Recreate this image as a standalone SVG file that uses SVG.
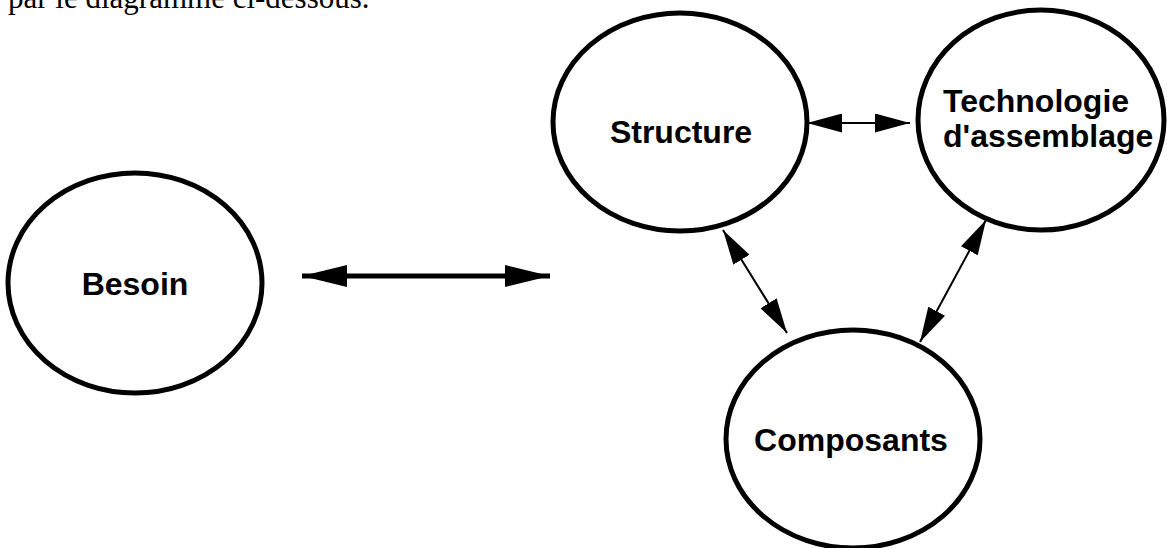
<svg xmlns="http://www.w3.org/2000/svg" width="1167" height="548" viewBox="0 0 1167 548">
  <style>
    .node { fill: #fff; stroke: #000; stroke-width: 5; }
    .lbl { font-family: "Liberation Sans", Arial, Helvetica, sans-serif; font-weight: bold; font-size: 32px; fill: #000; }
    .cap { font-family: "Liberation Serif", "Times New Roman", serif; font-size: 31px; fill: #000; }
    .thick { stroke: #000; stroke-width: 5; fill: none; }
    .thin { stroke: #000; stroke-width: 2; fill: none; }
  </style>
  <defs>
    <marker id="bigHead" viewBox="0 0 45 22" refX="45" refY="11" markerWidth="45" markerHeight="22" markerUnits="userSpaceOnUse" orient="auto-start-reverse">
      <path d="M0,0 L45,11 L0,22 Z" fill="#000"/>
    </marker>
    <marker id="smallHead" viewBox="0 0 35 19" refX="35" refY="9.5" markerWidth="35" markerHeight="19" markerUnits="userSpaceOnUse" orient="auto-start-reverse">
      <path d="M0,0 L35,9.5 L0,19 Z" fill="#000"/>
    </marker>
  </defs>
  <text class="cap" x="8" y="8">par le diagramme ci-dessous.</text>
  <g id="besoin">
    <ellipse class="node" cx="135" cy="283" rx="127" ry="110"/>
    <text class="lbl" x="135" y="295" text-anchor="middle">Besoin</text>
  </g>
  <g id="structure">
    <ellipse class="node" cx="680" cy="122" rx="127" ry="109"/>
    <text class="lbl" x="681" y="143" text-anchor="middle">Structure</text>
  </g>
  <g id="technologie">
    <ellipse class="node" cx="1041" cy="120" rx="123" ry="110"/>
    <text class="lbl" x="943" y="112">Technologie</text>
    <text class="lbl" x="943" y="147">d'assemblage</text>
  </g>
  <g id="composants">
    <ellipse class="node" cx="853" cy="439" rx="127" ry="109"/>
    <text class="lbl" x="851" y="451" text-anchor="middle">Composants</text>
  </g>
  <g id="connectors">
    <line class="thick" x1="302" y1="276" x2="550" y2="276" marker-start="url(#bigHead)" marker-end="url(#bigHead)"/>
    <line class="thin" x1="807" y1="123" x2="910" y2="123" marker-start="url(#smallHead)" marker-end="url(#smallHead)"/>
    <line class="thin" x1="723" y1="230" x2="787" y2="333" marker-start="url(#smallHead)" marker-end="url(#smallHead)"/>
    <line class="thin" x1="986" y1="220" x2="920" y2="342" marker-start="url(#smallHead)" marker-end="url(#smallHead)"/>
  </g>
</svg>
